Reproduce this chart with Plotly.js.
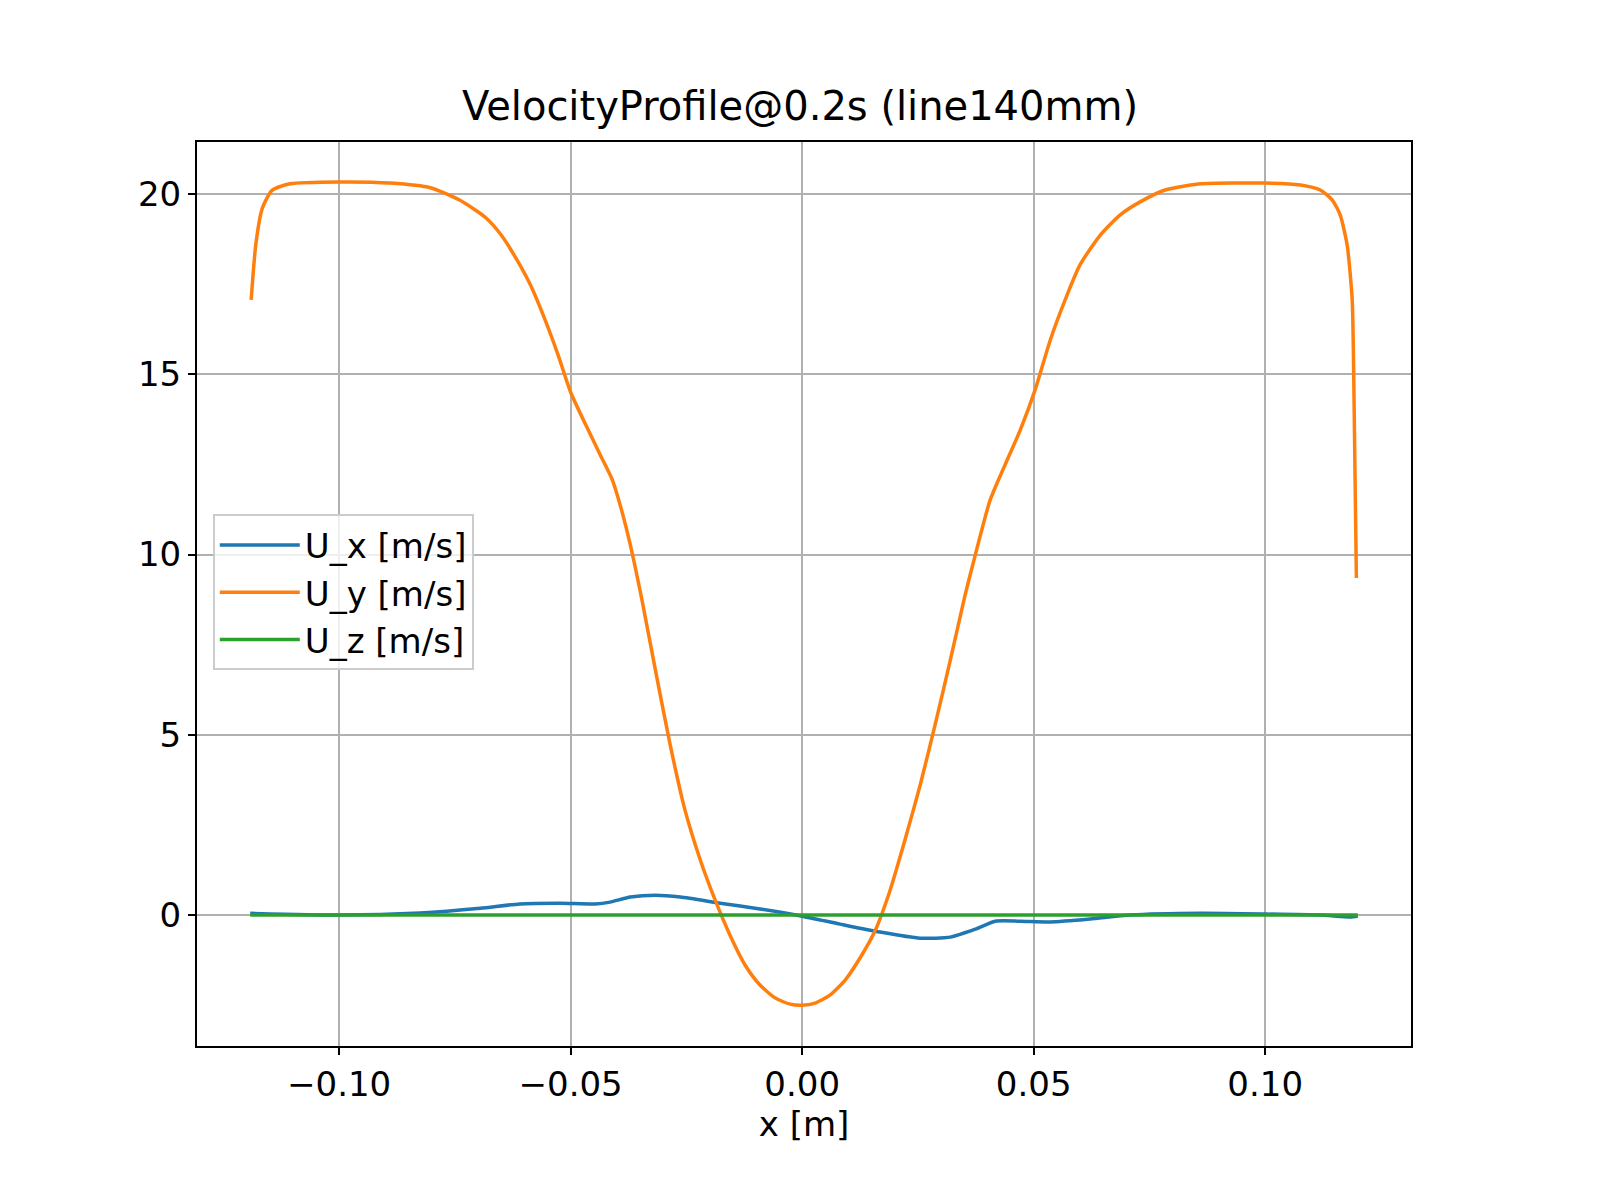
<!DOCTYPE html>
<html>
<head>
<meta charset="utf-8">
<script src="https://cdn.plot.ly/plotly-3.0.1.min.js"></script>
<style>body{margin:0;background:#fff}#plot{width:1600px;height:1200px}</style>
</head>
<body>
<div id="plot"></div>
<script>
const uyX = [-0.119, -0.118, -0.1166, -0.1145, -0.1106, -0.1, -0.089, -0.0803, -0.074, -0.0685, -0.065, -0.0616, -0.0587, -0.0555, -0.0527, -0.05, -0.0462, -0.0436, -0.041, -0.0393, -0.0371, -0.0346, -0.0317, -0.0285, -0.0253, -0.022, -0.0188, -0.0156, -0.0123, -0.0091, -0.0058, -0.0026, 0, 0.0028, 0.006, 0.0093, 0.0125, 0.0158, 0.019, 0.0222, 0.0255, 0.0287, 0.032, 0.0352, 0.0374, 0.0406, 0.0438, 0.0471, 0.0503, 0.0536, 0.0568, 0.06, 0.0644, 0.0687, 0.073, 0.0784, 0.086, 0.1, 0.1076, 0.1119, 0.1145, 0.1162, 0.1177, 0.1188, 0.1192, 0.1197];
const uyY = [17.06, 18.6, 19.6, 20.1, 20.28, 20.33, 20.3, 20.17, 19.83, 19.36, 18.86, 18.17, 17.48, 16.5, 15.53, 14.5, 13.45, 12.76, 12.07, 11.37, 10.26, 8.74, 6.8, 4.72, 2.91, 1.53, 0.42, -0.55, -1.39, -1.94, -2.3, -2.47, -2.5, -2.44, -2.22, -1.8, -1.19, -0.42, 0.69, 2.08, 3.61, 5.27, 7.07, 8.88, 9.99, 11.51, 12.48, 13.45, 14.56, 15.95, 17.06, 18.03, 18.86, 19.42, 19.78, 20.11, 20.28, 20.3, 20.25, 20.11, 19.83, 19.42, 18.59, 17.06, 14.29, 9.35];
const uxX = [-0.1192, -0.1, -0.0825, -0.0695, -0.061, -0.0523, -0.0447, -0.0415, -0.0371, -0.0317, -0.0263, -0.0177, -0.0091, 0, 0.0082, 0.0168, 0.0255, 0.032, 0.0374, 0.0417, 0.0471, 0.0536, 0.0622, 0.0708, 0.086, 0.1, 0.1119, 0.1184, 0.12];
const uxY = [0.05, 0, 0.06, 0.19, 0.31, 0.33, 0.31, 0.36, 0.5, 0.55, 0.5, 0.33, 0.17, -0.03, -0.25, -0.47, -0.64, -0.61, -0.39, -0.17, -0.17, -0.19, -0.11, 0, 0.05, 0.03, 0, -0.05, -0.03];
const uzX = [-0.1192, 0.12];
const uzY = [0, 0];
const names = ["U_x [m/s]", "U_y [m/s]", "U_z [m/s]"];
const colors = ["#1f77b4", "#ff7f0e", "#2ca02c"];

const traces = [[uxX, uxY], [uyX, uyY], [uzX, uzY]].map(([x, y], i) => ({
  type: "scatter", mode: "lines", x, y, name: names[i],
  line: { color: colors[i], width: 3.5, shape: "spline", smoothing: 0.6 },
}));

const axisCommon = {
  showline: true, mirror: true, linecolor: "#000", linewidth: 2,
  ticks: "outside", ticklen: 7, tickwidth: 2, tickcolor: "#000",
  showgrid: true, gridcolor: "#b0b0b0", gridwidth: 2, zeroline: false,
  tickfont: { size: 34, color: "#000" },
};

const layout = {
  width: 1600, height: 1200,
  font: { family: "DejaVu Sans", color: "#000" },
  paper_bgcolor: "#fff", plot_bgcolor: "#fff",
  margin: { l: 197, r: 189, t: 142, b: 154 },
  title: { text: "VelocityProfile@0.2s (line140mm)", font: { size: 40 }, x: 0.5, xanchor: "center", y: 0.912, yanchor: "middle" },
  xaxis: {
    ...axisCommon, range: [-0.1307, 0.1315],
    tickvals: [-0.1, -0.05, 0, 0.05, 0.1],
    ticktext: ["\u22120.10", "\u22120.05", "0.00", "0.05", "0.10"],
    title: { text: "x [m]", font: { size: 34 }, standoff: 8 },
  },
  yaxis: { ...axisCommon, range: [-3.63, 21.44], tickvals: [0, 5, 10, 15, 20] },
  showlegend: true,
  legend: {
    x: 0.013, y: 0.588, xanchor: "left", yanchor: "top",
    bgcolor: "rgba(255,255,255,0.8)", bordercolor: "#ccc", borderwidth: 2,
    font: { size: 34 }, itemwidth: 80, tracegroupgap: 4,
  },
};

Plotly.newPlot("plot", traces, layout, { displayModeBar: false });
</script>
</body>
</html>
